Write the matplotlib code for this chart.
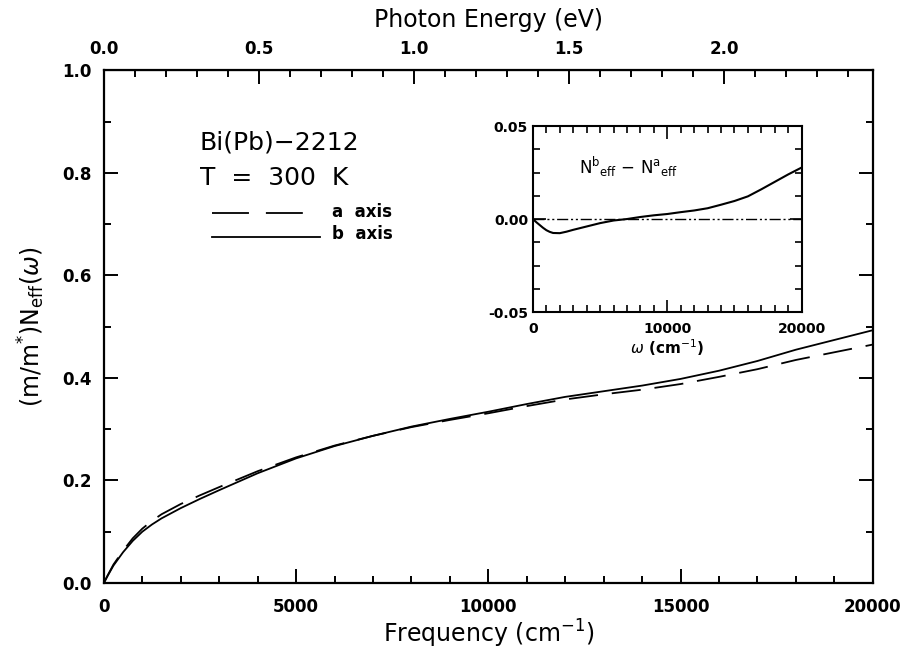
import numpy as np
import matplotlib
matplotlib.use("Agg")
import matplotlib.pyplot as plt
from matplotlib.ticker import MultipleLocator

# Frequency grid (cm^-1) and optical sum rule
freq = [0, 100, 250, 500, 750, 1000, 1250, 1500, 2000, 2500, 3000, 4000, 5000,
        6000, 7000, 8000, 9000, 10000, 11000, 12000, 13000, 14000, 15000,
        16000, 17000, 18000, 19000, 20000]
neff_b = [0, 0.014, 0.034, 0.060, 0.082, 0.100, 0.114, 0.126, 0.146, 0.164,
          0.181, 0.214, 0.243, 0.267, 0.287, 0.305, 0.320, 0.334, 0.349, 0.363,
          0.374, 0.385, 0.398, 0.414, 0.433, 0.455, 0.474, 0.493]
neff_a = [0, 0.015, 0.036, 0.063, 0.087, 0.106, 0.121, 0.134, 0.154, 0.171,
          0.187, 0.218, 0.245, 0.268, 0.287, 0.304, 0.318, 0.331, 0.345, 0.358,
          0.368, 0.377, 0.388, 0.402, 0.417, 0.435, 0.450, 0.465]

# inset: N_eff(b) - N_eff(a)
diff = [0, -0.0007, -0.0017, -0.0032, -0.0047, -0.0060, -0.0069, -0.0075,
        -0.0076, -0.0068, -0.0058, -0.0040, -0.0022, -0.0008, 0.0, 0.0011,
        0.0020, 0.0027, 0.0037, 0.0046, 0.0058, 0.0077, 0.0097, 0.0122,
        0.0160, 0.0200, 0.0240, 0.0277]

CM_PER_EV = 8065.54

plt.rcParams['font.family'] = 'DejaVu Sans'
plt.rcParams['mathtext.fontset'] = 'dejavusans'
plt.rcParams['lines.scale_dashes'] = False

fig = plt.figure(figsize=(9.11, 6.51), dpi=100)
ax = fig.add_axes([0.114, 0.1045, 0.844, 0.7875])

ax.plot(freq, neff_a, color='black', lw=1.3, dashes=(21, 10))
ax.plot(freq, neff_b, color='black', lw=1.3)

ax.set_xlim(0, 20000)
ax.set_ylim(0, 1.0)
ax.xaxis.set_major_locator(MultipleLocator(5000))
ax.xaxis.set_minor_locator(MultipleLocator(1000))
ax.yaxis.set_major_locator(MultipleLocator(0.2))
ax.yaxis.set_minor_locator(MultipleLocator(0.1))
ax.yaxis.set_major_formatter(plt.FormatStrFormatter('%.1f'))
ax.tick_params(which='both', direction='in', right=True, top=False, width=1.4,
               labelsize=12)
ax.tick_params(which='major', length=10)
ax.tick_params(which='minor', length=5)
ax.tick_params(axis='x', pad=11)
ax.tick_params(axis='y', pad=9)
for lab in ax.get_xticklabels() + ax.get_yticklabels():
    lab.set_fontweight('bold')
for s in ax.spines.values():
    s.set_linewidth(1.6)

ax.set_xlabel('Frequency (cm$^{-1}$)', fontsize=17, labelpad=1)
ax.set_ylabel('(m/m$^{*}$)N$_{\\rm eff}$($\\omega$)', fontsize=17, labelpad=11)

# top axis in photon energy
sec = ax.secondary_xaxis('top', functions=(lambda w: w / CM_PER_EV,
                                           lambda e: e * CM_PER_EV))
sec.xaxis.set_major_locator(MultipleLocator(0.5))
sec.xaxis.set_minor_locator(MultipleLocator(0.1))
sec.xaxis.set_major_formatter(plt.FormatStrFormatter('%.1f'))
sec.tick_params(which='both', direction='in', width=1.4, labelsize=12, pad=9)
sec.tick_params(which='major', length=10)
sec.tick_params(which='minor', length=5)
for lab in sec.get_xticklabels():
    lab.set_fontweight('bold')
sec.set_xlabel('Photon Energy (eV)', fontsize=17, labelpad=9)

ax.text(0.125, 0.86, 'Bi(Pb)\u22122212', transform=ax.transAxes, fontsize=18,
        va='center')
ax.text(0.125, 0.79, 'T  =  300  K', transform=ax.transAxes, fontsize=18,
        va='center')
ax.plot([0.141, 0.259], [0.721, 0.721], transform=ax.transAxes, color='black',
        lw=1.3, dashes=(26.6, 12.2))
ax.plot([0.141, 0.281], [0.674, 0.674], transform=ax.transAxes, color='black',
        lw=1.3)
ax.text(0.297, 0.724, 'a  axis', transform=ax.transAxes, fontsize=12,
        fontweight='bold', va='center')
ax.text(0.297, 0.680, 'b  axis', transform=ax.transAxes, fontsize=12,
        fontweight='bold', va='center')

# inset
ins = fig.add_axes([0.585, 0.5207, 0.295, 0.2857])
ins.plot(freq, diff, color='black', lw=1.5)
ins.axhline(0, color='black', lw=1.0, dashes=(8, 2, 1.5, 2, 1.5, 2))
ins.set_xlim(0, 20000)
ins.set_ylim(-0.05, 0.05)
ins.xaxis.set_major_locator(MultipleLocator(10000))
ins.xaxis.set_minor_locator(MultipleLocator(1000))
ins.yaxis.set_major_locator(MultipleLocator(0.05))
ins.yaxis.set_minor_locator(MultipleLocator(0.0125))
ins.yaxis.set_major_formatter(plt.FormatStrFormatter('%.2f'))
ins.tick_params(which='both', direction='in', top=True, right=True, width=1.2,
                labelsize=10)
ins.tick_params(which='major', length=9)
ins.tick_params(which='minor', length=5)
ins.tick_params(axis='x', pad=7)
for lab in ins.get_xticklabels() + ins.get_yticklabels():
    lab.set_fontweight('bold')
for s in ins.spines.values():
    s.set_linewidth(1.5)
ins.set_xlabel('$\\omega$ (cm$^{-1}$)', fontsize=11, fontweight='bold',
               labelpad=1)
ins.text(0.17, 0.78, 'N$^{\\rm b}{}_{\\rm eff}$ \u2212 N$^{\\rm a}{}_{\\rm eff}$',
         transform=ins.transAxes, fontsize=12, va='center')

fig.savefig('out.png', dpi=100)
